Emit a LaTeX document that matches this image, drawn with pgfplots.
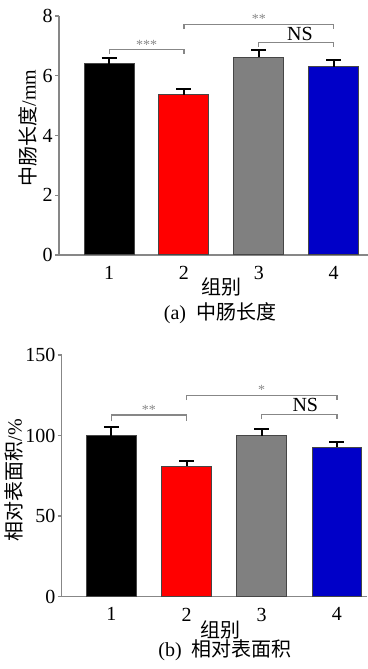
\documentclass[border=0pt]{standalone}
\usepackage{pgfplots}
\pgfplotsset{compat=1.18}
\usepackage{fontspec}
\setmainfont{Liberation Serif}
\newfontfamily\cjk{Noto Sans CJK SC}
\definecolor{barblue}{RGB}{0,0,200}
\definecolor{bargray}{RGB}{128,128,128}
\definecolor{axgray}{RGB}{135,135,135}
\definecolor{edgegray}{RGB}{70,70,70}
\tikzset{brk/.style={axgray, line width=0.6pt}}
\begin{document}
\begin{tikzpicture}
\useasboundingbox (0pt,0pt) rectangle (184pt,334.5pt);
\pgfplotsset{
  myax/.style={
    scale only axis, axis lines=left, axis line style={-, axgray, line width=0.7pt},
    ybar, ymin=0, clip=false,
    xtick={1,2,3,4}, xtick style={draw=none},
    ytick style={axgray, line width=0.7pt}, tick align=outside, major tick length=2pt,
    ticklabel style={font=\fontsize{10}{12}\selectfont},
    /pgf/number format/assume math mode=true,
    yticklabel style={inner sep=1pt},
    every axis plot/.append style={bar shift=0pt, draw=edgegray, line width=0.5pt},
    /pgfplots/error bars/y dir=plus,
    /pgfplots/error bars/y explicit,
    /pgfplots/error bars/error bar style={black, line width=1pt},
    /pgfplots/error bars/error mark options={black, line width=1pt, mark size=3.75pt, rotate=90},
  },
}
% ---------- (a)
\begin{axis}[myax, at={(29.5pt,207pt)}, anchor=origin,
  width=154.5pt, height=119.5pt, xmin=0.33, xmax=4.46, ymax=8,
  ytick={0,2,4,6,8}, bar width=25pt]
\addplot[fill=black] coordinates {(1,6.40) +- (0,0.21)};
\addplot[fill=red] coordinates {(2,5.36) +- (0,0.19)};
\addplot[fill=bargray] coordinates {(3,6.62) +- (0,0.23)};
\addplot[fill=barblue] coordinates {(4,6.30) +- (0,0.22)};
\draw[brk] (axis cs:1,6.72) |- (axis cs:2,6.88) -- (axis cs:2,6.72);
\node[anchor=base, inner sep=0pt, text=axgray, font=\fontsize{7}{8}\selectfont] at (axis cs:1.5,6.88) {***};
\draw[brk] (axis cs:2,7.56) |- (axis cs:4,7.72) -- (axis cs:4,7.56);
\node[anchor=base, inner sep=0pt, text=axgray, font=\fontsize{7}{8}\selectfont] at (axis cs:3,7.74) {**};
\draw[brk] (axis cs:3,6.97) |- (axis cs:4,7.11) -- (axis cs:4,6.97);
\node[anchor=base, inner sep=0pt] at (axis cs:3.55,7.19) {NS};
\end{axis}
\node[rotate=90] at (14pt,270.5pt) {{\cjk 中肠长度}/mm};
\node at (110.5pt,191pt) {\cjk 组别};
\node at (110pt,178pt) {(a)\ \ {\cjk 中肠长度}};
% ---------- (b)
\begin{axis}[myax, at={(30.85pt,36.15pt)}, anchor=origin,
  width=152.65pt, height=120.85pt, xmin=0.34, xmax=4.4, ymax=150,
  ytick={0,50,100,150}, bar width=24.75pt]
\addplot[fill=black] coordinates {(1,100) +- (0,5.2)};
\addplot[fill=red] coordinates {(2,81) +- (0,3.2)};
\addplot[fill=bargray] coordinates {(3,100) +- (0,4.2)};
\addplot[fill=barblue] coordinates {(4,92.7) +- (0,3.3)};
\draw[brk] (axis cs:1,109) |- (axis cs:2,112.8) -- (axis cs:2,109);
\node[anchor=base, inner sep=0pt, text=axgray, font=\fontsize{7}{8}\selectfont] at (axis cs:1.5,112.8) {**};
\draw[brk] (axis cs:2,122) |- (axis cs:4,125) -- (axis cs:4,122);
\node[anchor=base, inner sep=0pt, text=axgray, font=\fontsize{7}{8}\selectfont] at (axis cs:3,125.3) {*};
\draw[brk] (axis cs:3,110) |- (axis cs:4,113) -- (axis cs:4,110);
\node[anchor=base, inner sep=0pt] at (axis cs:3.58,114.8) {NS};
\end{axis}
\node[rotate=90] at (7pt,94.5pt) {{\cjk 相对表面积}/\%};
\node at (110pt,19.5pt) {\cjk 组别};
\node at (112.5pt,9.5pt) {(b)\ \ {\cjk 相对表面积}};
\end{tikzpicture}
\end{document}
